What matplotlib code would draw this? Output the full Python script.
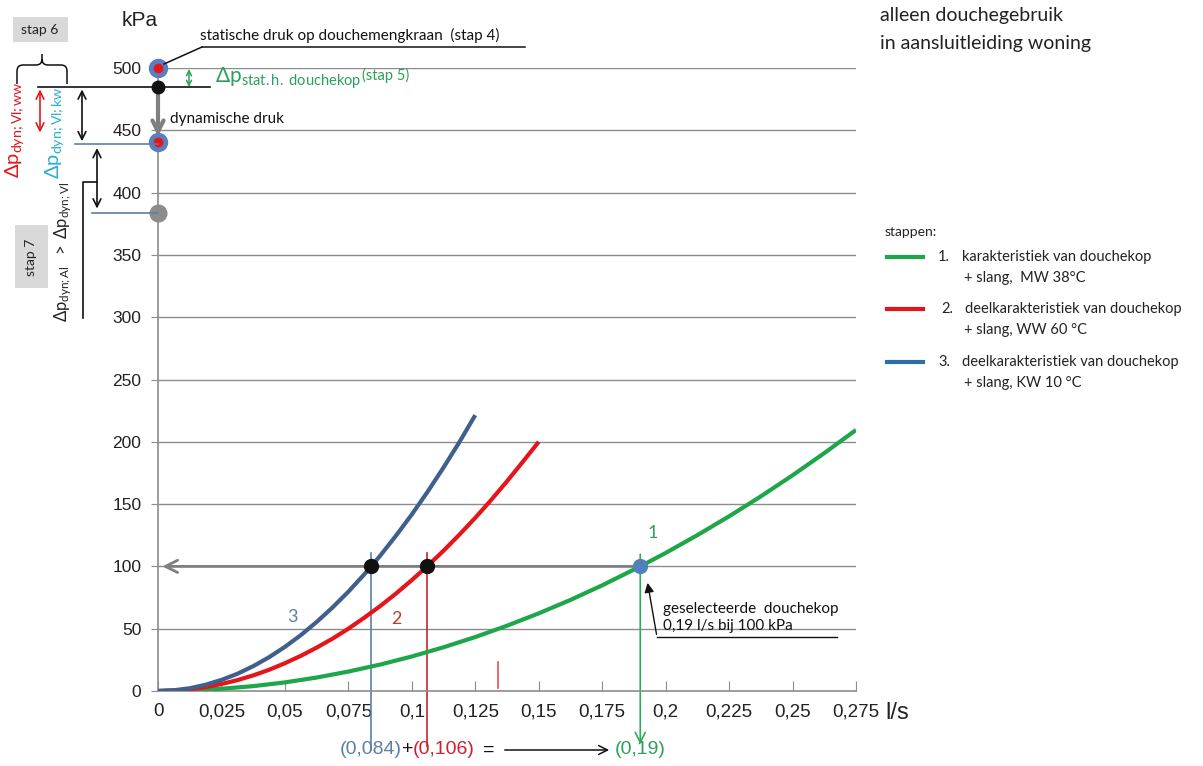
import matplotlib
matplotlib.use("Agg")
import matplotlib.pyplot as plt
import matplotlib.transforms as mtransforms
from matplotlib.patches import Rectangle, FancyArrowPatch, PathPatch
from matplotlib.path import Path
from matplotlib.lines import Line2D

plt.rcParams['font.family'] = ['Liberation Sans', 'DejaVu Sans']
plt.rcParams['mathtext.fontset'] = 'custom'
plt.rcParams['mathtext.rm'] = 'Lato'
plt.rcParams['mathtext.it'] = 'Lato:italic'
plt.rcParams['mathtext.bf'] = 'Lato:bold'
plt.rcParams['mathtext.fallback'] = 'stixsans'

LATO = ['Lato', 'DejaVu Sans']

# --- karakteristieken: debiet (l/s) tegen druk (kPa) ---
q_mw = [0, 0.0125, 0.025, 0.0375, 0.05, 0.0625, 0.075, 0.0875, 0.1, 0.1125, 0.125, 0.1375,
        0.15, 0.1625, 0.175, 0.19, 0.2, 0.2125, 0.225, 0.2375, 0.25, 0.2625, 0.275]
p_mw = [0, 0.5, 1.8, 3.9, 6.9, 10.8, 15.6, 21.2, 27.7, 35.1, 43.3, 52.4,
        62.3, 73.1, 84.8, 100, 110.8, 125.1, 140.2, 156.2, 173.1, 190.9, 209.5]

q_ww = [0, 0.00625, 0.0125, 0.01875, 0.025, 0.03125, 0.0375, 0.04375, 0.05, 0.05625, 0.0625,
        0.06875, 0.075, 0.08125, 0.0875, 0.09375, 0.1, 0.106, 0.1125, 0.11875, 0.125,
        0.13125, 0.1375, 0.14375, 0.15]
p_ww = [0, 0.4, 1.4, 3.1, 5.6, 8.7, 12.5, 17, 22.3, 28.2, 34.8,
        42, 50, 58.8, 68.1, 78.2, 89, 100, 112.6, 125.5, 139,
        153.3, 168.3, 184, 200]

q_kw = [0, 0.00625, 0.0125, 0.01875, 0.025, 0.03125, 0.0375, 0.04375, 0.05, 0.05625, 0.0625,
        0.06875, 0.075, 0.08125, 0.084, 0.0875, 0.09375, 0.1, 0.10625, 0.1125, 0.11875, 0.125]
p_kw = [0, 0.6, 2.2, 5, 8.9, 13.8, 19.9, 27.1, 35.4, 44.8, 55.4,
        67, 79.7, 93.6, 100, 108.5, 124.6, 141.7, 160, 179.4, 199.8, 221.4]

x_ticks = [0, 0.025, 0.05, 0.075, 0.1, 0.125, 0.15, 0.175, 0.2, 0.225, 0.25, 0.275]
x_labels = ['0', '0,025', '0,05', '0,075', '0,1', '0,125', '0,15', '0,175', '0,2', '0,225', '0,25', '0,275']
y_ticks = [0, 50, 100, 150, 200, 250, 300, 350, 400, 450, 500]

# drukniveaus (kPa)
p_stat = 500      # statische druk op douchemengkraan
p_stat_h = 485    # na statische hoogte douchekop
p_dyn = 441       # na dynamische druk
p_al = 384
p_sel = 100       # gekozen druk douchekop

# gekozen debieten (l/s)
sel_kw = 0.084
sel_ww = 0.106
sel_mw = 0.19

GREEN = '#1fa64a'
RED = '#e3161b'
BLUE = '#3f5f8d'
GRID = '#8c8c8c'

W, H = 1203, 766
fig = plt.figure(figsize=(W / 100, H / 100), dpi=100)
ax = fig.add_axes([158 / W, 1 - 691 / H, 698 / W, 623 / H])
ax.set_xlim(0, 0.275)
ax.set_ylim(0, 500)

# pixel coordinates (origin top-left) and figure-x / data-y blend
pix = mtransforms.Affine2D().scale(1 / W, -1 / H).translate(0, 1) + fig.transFigure
lev = mtransforms.blended_transform_factory(pix, ax.transData)

for s in ['top', 'right']:
    ax.spines[s].set_visible(False)
for s in ['left', 'bottom']:
    ax.spines[s].set_color(GRID)
    ax.spines[s].set_linewidth(1.2)

for y in y_ticks[1:]:
    ax.axhline(y, color=GRID, lw=1, zorder=1)

ax.set_xticks(x_ticks)
ax.set_xticklabels(x_labels)
ax.set_yticks(y_ticks)
ax.tick_params(axis='x', direction='in', length=7, color=GRID, labelsize=13.5, pad=9, labelcolor='#222')
ax.tick_params(axis='y', direction='out', length=5, color=GRID, labelsize=12.5, pad=7, labelcolor='#222')

# curves
ax.plot(q_mw, p_mw, color=GREEN, lw=3, zorder=3, solid_capstyle='butt', solid_joinstyle='round')
ax.plot(q_ww, p_ww, color=RED, lw=3, zorder=3, solid_capstyle='butt', solid_joinstyle='round')
ax.plot(q_kw, p_kw, color=BLUE, lw=3, zorder=3, solid_capstyle='butt', solid_joinstyle='round')

# 100 kPa reading line
ax.annotate('', xy=(0.0006, p_sel), xytext=(sel_mw, p_sel),
            arrowprops=dict(arrowstyle='->', color='#7f7f7f', lw=2, mutation_scale=22), zorder=2)

# verticals down to the flow axis
ax.plot([sel_kw, sel_kw], [111, -47], color='#5b7fa6', lw=1.2, clip_on=False, zorder=2)
ax.plot([sel_ww, sel_ww], [111, -44], color='#c0262d', lw=1.2, clip_on=False, zorder=2)
ax.annotate('', xy=(sel_mw, -45), xytext=(sel_mw, 112), annotation_clip=False,
            arrowprops=dict(arrowstyle='->', color='#2eaa5a', lw=1.2, mutation_scale=18), zorder=2)
ax.plot([0.134, 0.134], [2.5, 23], color='#e05050', lw=1.2, zorder=2)

# intersection points
ax.plot([sel_kw, sel_ww], [p_sel, p_sel], 'o', color='#111', ms=10, zorder=5)
ax.plot(sel_mw, p_sel, 'o', color='#4f81bd', ms=10, zorder=5)

ax.text(0.053, 59, '3', color='#5b7fa6', fontsize=13, family=LATO, ha='center', va='center')
ax.text(0.094, 58, '2', color='#c0392b', fontsize=13, family=LATO, ha='center', va='center')
ax.text(0.195, 127, '1', color='#2ca05a', fontsize=13, family=LATO, ha='center', va='center')

ax.text(0.1988, 46.5, 'geselecteerde  douchekop\n0,19 l/s bij 100 kPa', fontsize=11,
        family=LATO, color='#111', va='bottom', ha='left', linespacing=1.25)
ax.plot([0.1966, 0.2675], [43.3, 43.3], color='#111', lw=1)
ax.annotate('', xy=(0.1927, 89), xytext=(0.1966, 43.3),
            arrowprops=dict(arrowstyle='-|>', color='#111', lw=1, mutation_scale=14))

# pressure column on the mixing-valve axis
ax.annotate('', xy=(0, p_dyn + 2), xytext=(0, p_stat_h - 2), annotation_clip=False,
            arrowprops=dict(arrowstyle='->', color='#808080', lw=3, mutation_scale=20), zorder=4)
ax.plot(0, p_stat, 'o', color='#5a7fc0', ms=13, clip_on=False, zorder=6)
ax.plot(0, p_stat, 'o', color=RED, ms=6, clip_on=False, zorder=7)
ax.plot(0, p_dyn, 'o', color='#5a7fc0', ms=13, clip_on=False, zorder=6)
ax.plot(0, p_dyn, 'o', color=RED, ms=6, clip_on=False, zorder=7)
ax.plot(0, p_stat_h, 'o', color='#111', ms=9, clip_on=False, zorder=6)
ax.plot(0, p_al, 'o', color='#8c8c8c', ms=12, clip_on=False, zorder=6)

# level lines and arrows left of the axis
fig.add_artist(Line2D([38, 210], [p_stat_h, p_stat_h], transform=lev, color='#111', lw=1.2))
fig.add_artist(Line2D([75, 158], [p_dyn - 2, p_dyn - 2], transform=lev, color='#5b7fa6', lw=1.2))
fig.add_artist(Line2D([92, 158], [p_al, p_al], transform=lev, color='#5b7fa6', lw=1.2))
fig.add_artist(FancyArrowPatch((40, p_stat_h), (40, 446), transform=lev, arrowstyle='<->',
                               mutation_scale=14, color=RED, lw=1.2))
fig.add_artist(FancyArrowPatch((82, p_stat_h), (82, p_dyn - 2), transform=lev, arrowstyle='<->',
                               mutation_scale=14, color='#111', lw=1.2))
fig.add_artist(FancyArrowPatch((97, p_dyn - 3), (97, p_al + 1), transform=lev, arrowstyle='<->',
                               mutation_scale=14, color='#111', lw=1.2))
fig.add_artist(Line2D([83, 83, 97], [299, 408.5, 408.5], transform=lev, color='#111', lw=1.2))

# brace under "stap 6"
brace = Path([(17, 84), (17, 71), (17, 65), (23, 65), (36, 65), (42, 65), (42, 59), (42, 54),
              (42, 59), (42, 65), (48, 65), (61, 65), (67, 65), (67, 71), (67, 84)],
             [Path.MOVETO, Path.LINETO, Path.CURVE3, Path.CURVE3, Path.LINETO, Path.CURVE3,
              Path.CURVE3, Path.LINETO, Path.MOVETO, Path.CURVE3, Path.CURVE3, Path.LINETO,
              Path.CURVE3, Path.CURVE3, Path.LINETO])
fig.add_artist(PathPatch(brace, transform=pix, fill=False, color='#111', lw=1.1))

fig.add_artist(Rectangle((13, 17), 55, 25, transform=pix, facecolor='#d9d9d9', edgecolor='none'))
fig.text(40, 30, 'stap 6', transform=pix, fontsize=10, family=LATO, ha='center', va='center', color='#222')
fig.add_artist(Rectangle((15, 225), 33, 63, transform=pix, facecolor='#d9d9d9', edgecolor='none'))
fig.text(31, 257, 'stap 7', transform=pix, fontsize=10, family=LATO, ha='center', va='center',
         rotation=90, color='#222')

fig.text(15, 130, r'$\mathrm{\Delta p_{dyn;Vl;ww}}$', transform=pix, fontsize=14.5, color=RED,
         rotation=90, ha='center', va='center')
fig.text(55, 133, r'$\mathrm{\Delta p_{dyn;Vl;kw}}$', transform=pix, fontsize=14.5, color='#2ab0d0',
         rotation=90, ha='center', va='center')
fig.text(63, 252, r'$\mathrm{\Delta p_{dyn;Al}\ \ >\ \Delta p_{dyn;Vl}}$', transform=pix, fontsize=12,
         color='#222', rotation=90, ha='center', va='center')

fig.text(140, 21, 'kPa', transform=pix, fontsize=15, ha='center', va='center', color='#222')

fig.text(200, 35, 'statische druk op douchemengkraan  (stap 4)', transform=pix, fontsize=11,
         family=LATO, ha='left', va='center', color='#111')
fig.add_artist(Line2D([202, 525], [47, 47], transform=pix, color='#111', lw=1.1))
fig.add_artist(Line2D([202, 164], [47, 64], transform=pix, color='#111', lw=1.1))

fig.add_artist(FancyArrowPatch((189, 69), (189, 87), transform=pix, arrowstyle='<->',
                               mutation_scale=9, shrinkA=0, shrinkB=0, color='#2ca05a', lw=1.1))
fig.text(215, 78, r'$\mathrm{\Delta p_{stat.h.\ douchekop}}$', transform=pix,
         fontsize=15, color='#2ca05a', ha='left', va='center')
fig.text(362, 75, '(stap 5)', transform=pix, fontsize=10.5, family=LATO,
         color='#2ca05a', ha='left', va='center')

fig.text(170, 119, 'dynamische druk', transform=pix, fontsize=11, family=LATO,
         ha='left', va='center', color='#111')

# formula under the flow axis
fig.text(340, 750, '(0,084)', transform=pix, fontsize=14, color='#5b7fa6', ha='left', va='center')
fig.text(402, 750, '+', transform=pix, fontsize=14, color='#111', ha='left', va='center')
fig.text(413, 750, '(0,106)', transform=pix, fontsize=14, color='#d0202a', ha='left', va='center')
fig.text(483, 750, '=', transform=pix, fontsize=14, color='#111', ha='left', va='center')
fig.add_artist(FancyArrowPatch((502, 750), (612, 750), transform=pix, arrowstyle='->',
                               mutation_scale=16, color='#111', lw=1.1))
fig.text(615, 750, '(0,19)', transform=pix, fontsize=14, color='#2ca05a', ha='left', va='center')

fig.text(885, 713, 'l/s', transform=pix, fontsize=17, ha='left', va='center', color='#222')

fig.text(880, 15, 'alleen douchegebruik', transform=pix, fontsize=14, family=LATO,
         ha='left', va='center', color='#222')
fig.text(880, 44, 'in aansluitleiding woning', transform=pix, fontsize=14, family=LATO,
         ha='left', va='center', color='#222')

# legend
fig.text(885, 232, 'stappen:', transform=pix, fontsize=10, family=LATO, ha='left', va='center', color='#222')
legend_rows = [
    (257, GREEN, '1.', 938, 'karakteristiek van douchekop', '+ slang,  MW 38°C'),
    (309, RED, '2.', 941, 'deelkarakteristiek van douchekop', '+ slang, WW 60 °C'),
    (362, '#2e6ea6', '3.', 938, 'deelkarakteristiek van douchekop', '+ slang, KW 10 °C'),
]
for y, col, num, xn, l1, l2 in legend_rows:
    fig.add_artist(Line2D([887, 923], [y, y], transform=pix, color=col, lw=3))
    fig.text(xn, y, num, transform=pix, fontsize=10.5, family=LATO, ha='left', va='center', color='#222')
    fig.text(962 if num != '2.' else 965, y, l1, transform=pix, fontsize=10.5, family=LATO,
             ha='left', va='center', color='#222')
    fig.text(964, y + 21, l2, transform=pix, fontsize=10.5, family=LATO,
             ha='left', va='center', color='#222')

fig.savefig('out.png', dpi=100)
